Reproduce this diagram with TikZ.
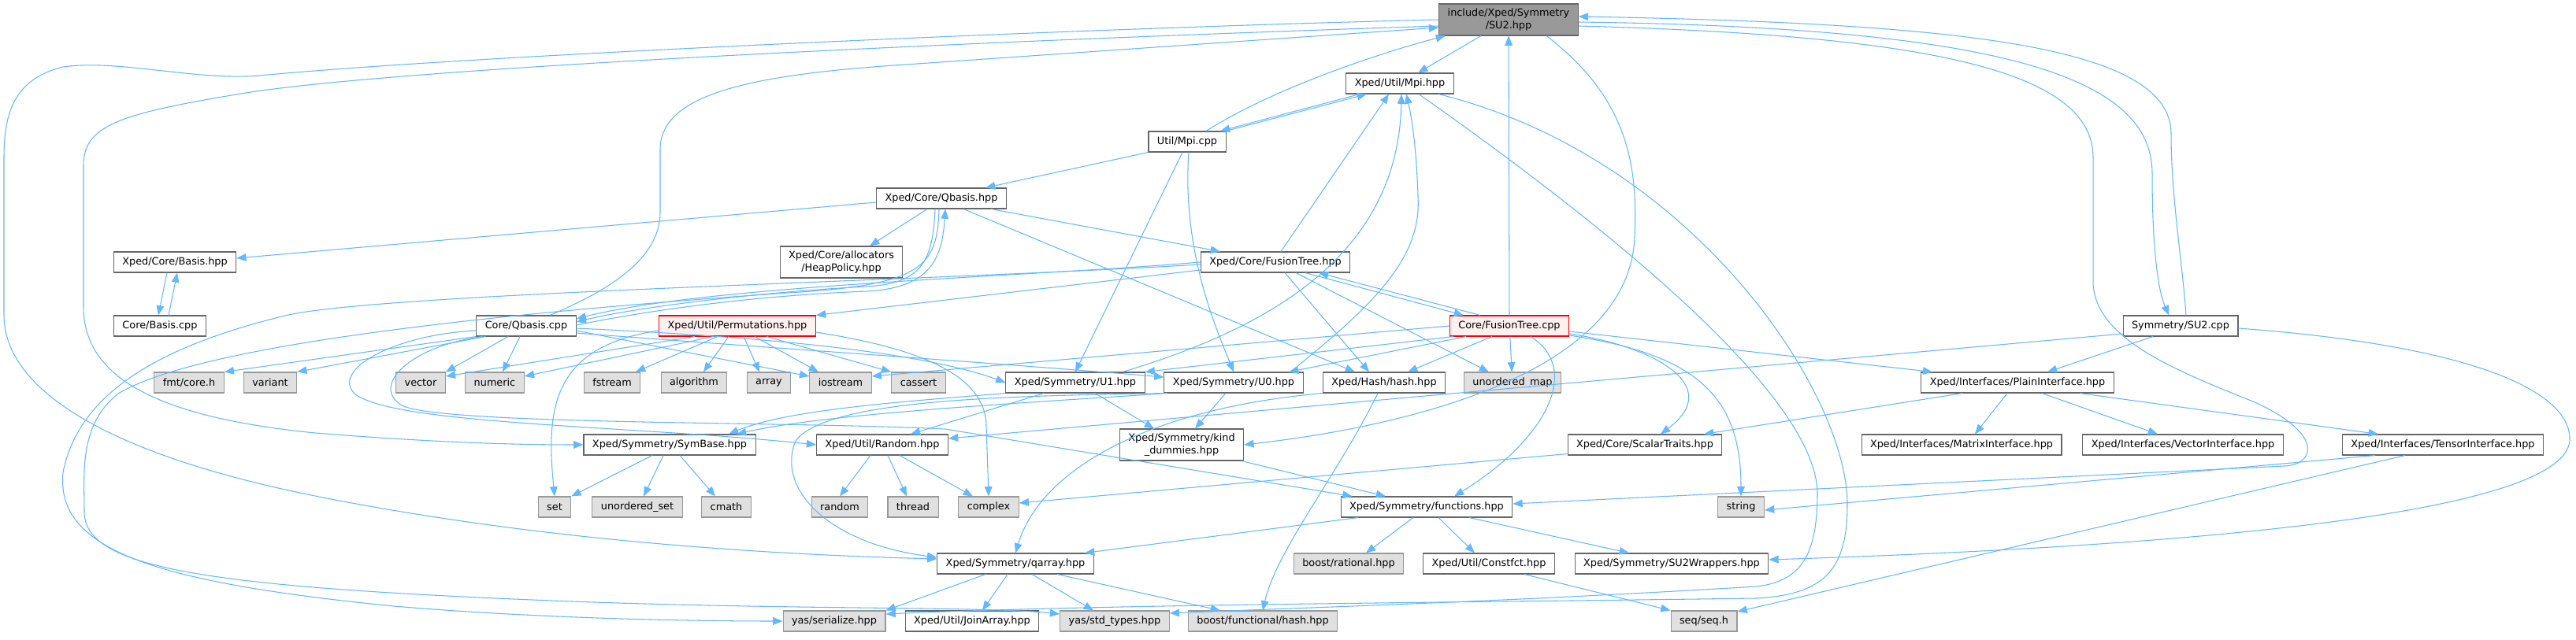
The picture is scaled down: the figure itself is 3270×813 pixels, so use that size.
\documentclass[tikz,border=0pt]{standalone}
\usepackage{fontspec}
\newfontfamily\dxfont{DejaVu Sans}
\usetikzlibrary{arrows.meta,calc}
\definecolor{dxEdge}{HTML}{63B8FF}
\definecolor{dxBorder}{HTML}{666666}
\definecolor{dxSysFill}{HTML}{E0E0E0}
\definecolor{dxSysBorder}{HTML}{999999}
\definecolor{dxRootFill}{HTML}{999999}
\definecolor{dxRed}{HTML}{FF0000}
\definecolor{dxRedFill}{HTML}{FFF0F0}

\begin{document}
\begin{tikzpicture}[
  x=0.02cm, y=-0.02cm,
  file/.style={
    draw=dxBorder,
    line width=0.6pt,
    fill=white,
    font=\dxfont\fontsize{7.3}{8.7}\selectfont,
    inner xsep=0.22cm,
    inner ysep=0pt,
    minimum height=0.52cm,
    align=center
  },
  sysfile/.style={file,draw=dxSysBorder,fill=dxSysFill},
  rootfile/.style={file,fill=dxRootFill,minimum height=0.8cm},
  redfile/.style={file,draw=dxRed,fill=dxRedFill},
  dep/.style={draw=dxEdge,line width=0.6pt,-{Triangle[length=7pt,width=5.5pt]}}
]
  \fill[white] (0,0) rectangle (3270,813);
  \useasboundingbox (0,0) rectangle (3270,813);

  % files of the project
  \node[rootfile] (su2h) at (1915,25) {include/Xped/Symmetry\\/SU2.hpp};
  \node[file] (mpih) at (1777,106) {Xped/Util/Mpi.hpp};
  \node[file] (mpic) at (1507,180) {Util/Mpi.cpp};
  \node[file] (qbh) at (1195,252) {Xped/Core/Qbasis.hpp};
  \node[file] (basish) at (222,333) {Xped/Core/Basis.hpp};
  \node[file,minimum height=0.8cm] (heap) at (1068,333) {Xped/Core/allocators\\/HeapPolicy.hpp};
  \node[file] (fth) at (1619,333) {Xped/Core/FusionTree.hpp};
  \node[file] (basisc) at (203,414) {Core/Basis.cpp};
  \node[file] (qbc) at (668,414) {Core/Qbasis.cpp};
  \node[redfile] (perm) at (936,414) {Xped/Util/Permutations.hpp};
  \node[redfile] (ftc) at (1916,414) {Core/FusionTree.cpp};
  \node[file] (su2c) at (2768,414) {Symmetry/SU2.cpp};

  \node[sysfile] (fmt) at (240,486) {fmt/core.h};
  \node[sysfile] (variant) at (343,486) {variant};
  \node[sysfile] (vector) at (534,486) {vector};
  \node[sysfile] (numeric) at (628,486) {numeric};
  \node[sysfile] (fstream) at (777,486) {fstream};
  \node[sysfile] (algorithm) at (881,486) {algorithm};
  \node[sysfile] (array) at (976,486) {array};
  \node[sysfile] (iostream) at (1067,486) {iostream};
  \node[sysfile] (cassert) at (1166,486) {cassert};
  \node[file] (u1) at (1365,486) {Xped/Symmetry/U1.hpp};
  \node[file] (u0) at (1566,486) {Xped/Symmetry/U0.hpp};
  \node[file] (hash) at (1757,486) {Xped/Hash/hash.hpp};
  \node[sysfile] (umap) at (1920,486) {unordered\_map};
  \node[file] (plain) at (2561,486) {Xped/Interfaces/PlainInterface.hpp};

  \node[file] (symbase) at (850,565) {Xped/Symmetry/SymBase.hpp};
  \node[file] (random) at (1120,565) {Xped/Util/Random.hpp};
  \node[file,minimum height=0.8cm] (kind) at (1500,565) {Xped/Symmetry/kind\\\_dummies.hpp};
  \node[file] (scalar) at (2088,565) {Xped/Core/ScalarTraits.hpp};
  \node[file] (matrix) at (2490,565) {Xped/Interfaces/MatrixInterface.hpp};
  \node[file] (vecif) at (2771,565) {Xped/Interfaces/VectorInterface.hpp};
  \node[file] (tensor) at (3101,565) {Xped/Interfaces/TensorInterface.hpp};

  \node[sysfile] (set) at (704,644) {set};
  \node[sysfile] (uset) at (809,644) {unordered\_set};
  \node[sysfile] (cmath) at (922,644) {cmath};
  \node[sysfile] (randomh) at (1066,644) {random};
  \node[sysfile] (thread) at (1159,644) {thread};
  \node[sysfile] (complex) at (1255,644) {complex};
  \node[file] (func) at (1811,644) {Xped/Symmetry/functions.hpp};
  \node[sysfile] (string) at (2210,644) {string};

  \node[file] (qarray) at (1289,716) {Xped/Symmetry/qarray.hpp};
  \node[sysfile] (rational) at (1712,716) {boost/rational.hpp};
  \node[file] (constfct) at (1890,716) {Xped/Util/Constfct.hpp};
  \node[file] (su2w) at (2122,716) {Xped/Symmetry/SU2Wrappers.hpp};

  \node[sysfile] (serialize) at (1059,789) {yas/serialize.hpp};
  \node[file] (joinarray) at (1234,789) {Xped/Util/JoinArray.hpp};
  \node[sysfile] (stdtypes) at (1415,789) {yas/std\_types.hpp};
  \node[sysfile] (bhash) at (1603,789) {boost/functional/hash.hpp};
  \node[sysfile] (seq) at (2163,789) {seq/seq.h};

  % root header
  \draw[dep] (su2h) -- (mpih);
  \draw[dep] (su2h.west) .. controls (1400,35) and (600,70) .. (330,96)
    .. controls (250,103) and (150,75) .. (80,85)
    .. controls (20,100) and (5,140) .. (5,200) -- (5,400)
    .. controls (5,500) and (150,580) .. (400,630)
    .. controls (700,690) and (1000,705) .. ($(qarray.west)+(0,-6)$);
  \draw[dep] ($(su2h.west)+(0,8)$) .. controls (1300,50) and (500,85) .. (300,120)
    .. controls (150,145) and (106,160) .. (106,210) -- (106,390)
    .. controls (106,480) and (200,530) .. (400,550)
    .. controls (550,562) and (650,565) .. (symbase.west);
  \draw[dep] ($(su2h.south)+(48,0)$) .. controls (2060,120) and (2080,200) .. (2075,300)
    .. controls (2070,470) and (1800,540) .. (kind.east);
  \draw[dep] ($(su2h.east)+(0,3)$) .. controls (2550,35) and (2732,100) .. (2732,220)
    .. controls (2732,320) and (2740,370) .. ($(su2c.north)+(-15,0)$);
  \draw[dep] ($(su2c.north)+(7,0)$) .. controls (2770,330) and (2756,250) .. (2756,170)
    .. controls (2756,60) and (2500,30) .. ($(su2h.east)+(0,-4)$);
  \draw[dep] ($(su2h.east)+(0,8)$) .. controls (2450,45) and (2657,90) .. (2657,200) -- (2657,360)
    .. controls (2660,430) and (2760,470) .. (2860,510)
    .. controls (2950,550) and (2940,590) .. (2900,592) -- ($(func.east)+(0,-4)$);

  % Mpi
  \draw[dep] ($(mpih.south)+(-51,0)$) -- ($(mpic.north)+(42,0)$);
  \draw[dep] ($(mpic.north)+(49,0)$) -- ($(mpih.south)+(-42,0)$);
  \draw[dep] ($(mpic.north)+(24,0)$) .. controls (1620,110) and (1760,65) .. ($(su2h.south)+(-80,0)$);
  \draw[dep] (mpic.south west) -- ($(qbh.north)+(56,0)$);
  \draw[dep] ($(mpic.south)+(-6,0)$) -- (u1.north);
  \draw[dep] ($(mpic.south)+(2,0)$) .. controls (1500,320) and (1545,420) .. (u0.north);
  \draw[dep] ($(mpih.south)+(24,0)$) .. controls (2100,330) and (2310,520) .. (2307,630)
    .. controls (2306,700) and (2290,738) .. (2230,745)
    .. controls (1900,765) and (1650,772) .. ($(stdtypes.east)+(0,-10)$);
  \draw[dep] ($(mpih.south)+(49,0)$) .. controls (2150,200) and (2345,500) .. (2345,640)
    .. controls (2345,720) and (2320,755) .. (2230,760)
    .. controls (1800,766) and (1400,768) .. ($(serialize.east)+(0,-9)$);

  % Qbasis and FusionTree headers
  \draw[dep] ($(qbh.west)+(0,5)$) -- ($(basish.east)+(0,-5)$);
  \draw[dep] ($(qbh.south)+(-18,0)$) -- ($(heap.north)+(36,0)$);
  \draw[dep] ($(qbh.south)+(63,0)$) -- ($(fth.north)+(-70,0)$);
  \draw[dep] ($(qbh.south)+(28,0)$) -- ($(hash.north)+(-37,0)$);
  \draw[dep] ($(qbh.south)+(-8,0)$) .. controls (1184,330) and (1172,360) .. (1100,364)
    .. controls (950,372) and (800,392) .. ($(qbc.east)+(0,-5)$);
  \draw[dep] ($(qbc.east)+(0,-1)$) .. controls (820,395) and (950,376) .. (1100,370)
    .. controls (1180,366) and (1196,330) .. ($(qbh.south)+(5,0)$);
  \draw[dep] ($(qbh.south)+(-3,0)$) .. controls (1190,340) and (1170,362) .. (1000,372)
    .. controls (600,400) and (250,440) .. (150,500)
    .. controls (100,540) and (107,600) .. (107,650)
    .. controls (107,720) and (250,745) .. (700,763)
    .. controls (1000,775) and (1250,770) .. ($(stdtypes.west)+(0,-9)$);
  \draw[dep] (fth.west) .. controls (1300,352) and (900,362) .. ($(qbc.east)+(0,-9)$);
  \draw[dep] ($(fth.west)+(0,3)$) .. controls (1150,358) and (500,372) .. (366,400)
    .. controls (200,440) and (100,500) .. (80,600)
    .. controls (70,700) and (200,740) .. (500,770)
    .. controls (700,787) and (900,789) .. (serialize.west);
  \draw[dep] ($(fth.west)+(0,10)$) -- (perm.north east);
  \draw[dep] ($(fth.north)+(7,0)$) -- ($(mpih.south)+(-14,0)$);
  \draw[dep] ($(fth.south)+(12,0)$) -- ($(hash.north)+(-19,0)$);
  \draw[dep] ($(fth.south)+(26,0)$) -- ($(umap.north)+(-30,0)$);
  \draw[dep] ($(fth.south)+(38,0)$) -- ($(ftc.north)+(-58,0)$);
  \draw[dep] ($(ftc.north)+(-37,0)$) -- ($(fth.south)+(55,0)$);
  \draw[dep] ($(basish.south)+(-10,0)$) -- ($(basisc.north)+(-2,0)$);
  \draw[dep] ($(basisc.north)+(11,0)$) -- ($(basish.south)+(3,0)$);

  % Core/Qbasis.cpp
  \draw[dep] ($(qbc.north)+(30,0)$) .. controls (770,370) and (838,330) .. (838,270) -- (838,190)
    .. controls (838,120) and (950,95) .. (1150,82) -- ($(su2h.west)+(0,10)$);
  \draw[dep] (qbc.south west) -- (fmt.north east);
  \draw[dep] ($(qbc.south west)+(12,0)$) -- (variant.north east);
  \draw[dep] ($(qbc.south)+(-23,0)$) -- (vector.north east);
  \draw[dep] ($(qbc.south)+(-8,0)$) -- ($(numeric.north)+(10,0)$);
  \draw[dep] ($(qbc.east)+(0,6)$) -- ($(iostream.west)+(0,-8)$);
  \draw[dep] ($(qbc.east)+(0,3)$) .. controls (900,425) and (1150,440) .. (u1.west);
  \draw[dep] ($(qbc.east)+(0,9)$) .. controls (950,440) and (1250,460) .. ($(u0.west)+(0,-7)$);
  \draw[dep] ($(qbc.west)+(0,6)$) .. controls (500,425) and (420,470) .. (450,500)
    .. controls (500,540) and (800,540) .. (random.west);
  \draw[dep] ($(qbc.south west)+(8,0)$) .. controls (520,440) and (470,490) .. (510,515)
    .. controls (560,540) and (1000,535) .. (1200,545) -- ($(func.north west)+(15,0)$);

  % Permutations
  \draw[dep] ($(perm.south)+(-54,0)$) -- ($(vector.east)+(0,-8)$);
  \draw[dep] ($(perm.south)+(-30,0)$) -- ($(numeric.east)+(0,-8)$);
  \draw[dep] ($(perm.south)+(-25,0)$) -- ($(fstream.north)+(30,0)$);
  \draw[dep] ($(perm.south)+(-11,0)$) -- ($(algorithm.north)+(12,0)$);
  \draw[dep] ($(perm.south)+(8,0)$) -- ($(array.north)+(-12,0)$);
  \draw[dep] ($(perm.south)+(22,0)$) -- ($(iostream.north)+(-28,0)$);
  \draw[dep] ($(perm.south)+(37,0)$) -- (cassert.north west);
  \draw[dep] ($(perm.west)+(0,6)$) .. controls (700,440) and (693,520) .. (set.north);
  \draw[dep] ($(perm.east)+(0,8)$) .. controls (1150,440) and (1250,470) .. (1252,540) -- (complex.north);

  % Core/FusionTree.cpp
  \draw[dep] (ftc) -- (su2h);
  \draw[dep] (ftc.west) -- ($(iostream.east)+(0,-8)$);
  \draw[dep] ($(ftc.south west)+(5,0)$) -- (u1.north east);
  \draw[dep] ($(ftc.south)+(-55,0)$) -- ($(u0.north)+(70,0)$);
  \draw[dep] ($(ftc.south)+(-22,0)$) -- ($(hash.north)+(30,0)$);
  \draw[dep] (ftc) -- (umap);
  \draw[dep] ($(ftc.south)+(27,0)$) .. controls (2010,470) and (1960,560) .. ($(func.north)+(35,0)$);
  \draw[dep] ($(ftc.east)+(0,10)$) .. controls (2100,440) and (2190,490) .. ($(scalar.north)+(20,0)$);
  \draw[dep] ($(ftc.east)+(0,12)$) .. controls (2150,450) and (2210,500) .. (string.north);
  \draw[dep] ($(ftc.east)+(0,7)$) -- ($(plain.north west)+(15,0)$);

  % Symmetry/SU2.cpp and interfaces
  \draw[dep] ($(su2c.south)+(-35,0)$) -- ($(plain.north)+(38,0)$);
  \draw[dep] ($(su2c.west)+(0,10)$) -- ($(random.east)+(0,-8)$);
  \draw[dep] ($(su2c.east)+(0,3)$) .. controls (3150,440) and (3265,500) .. (3262,560)
    .. controls (3255,640) and (2900,690) .. ($(su2w.east)+(0,-5)$);
  \draw[dep] ($(plain.south)+(-70,0)$) -- ($(scalar.north)+(75,0)$);
  \draw[dep] ($(plain.south)+(-13,0)$) -- ($(matrix.north)+(17,0)$);
  \draw[dep] ($(plain.south)+(31,0)$) -- ($(vecif.north)+(-32,0)$);
  \draw[dep] ($(plain.south)+(79,0)$) -- ($(tensor.north)+(-82,0)$);
  \draw[dep] ($(tensor.south)+(-86,0)$) -- ($(string.east)+(0,4)$);
  \draw[dep] ($(tensor.south)+(-48,0)$) -- ($(seq.east)+(0,-12)$);
  \draw[dep] ($(scalar.south west)+(0,-2)$) -- ($(complex.east)+(0,-5)$);

  % U1, U0, hash
  \draw[dep] ($(u1.north)+(60,0)$) .. controls (1600,420) and (1775,330) .. ($(mpih.south)+(2,0)$);
  \draw[dep] ($(u0.north)+(72,0)$) .. controls (1740,390) and (1805,330) .. (1800,250)
    .. controls (1798,180) and (1790,140) .. ($(mpih.south)+(8,0)$);
  \draw[dep] (u1.south west) .. controls (1150,510) and (1000,520) .. ($(symbase.north)+(75,0)$);
  \draw[dep] ($(u0.south west)+(5,0)$) .. controls (1300,512) and (1050,525) .. ($(symbase.north)+(85,0)$);
  \draw[dep] ($(u1.south)+(-40,0)$) -- ($(random.north)+(36,0)$);
  \draw[dep] ($(u1.south)+(25,0)$) -- ($(kind.north)+(-35,0)$);
  \draw[dep] ($(u0.south)+(-10,0)$) -- ($(kind.north)+(17,0)$);
  \draw[dep] ($(u0.south west)+(2,0)$) .. controls (1300,503) and (1050,505) .. (1010,560)
    .. controls (985,620) and (1050,690) .. ($(qarray.west)+(0,-8)$);
  \draw[dep] (hash.south west) .. controls (1450,520) and (1320,600) .. (qarray.north);
  \draw[dep] ($(hash.south)+(-8,0)$) .. controls (1700,600) and (1620,700) .. (bhash.north);

  % lower part
  \draw[dep] ($(random.south)+(-15,0)$) -- (randomh.north);
  \draw[dep] ($(random.south)+(7,0)$) -- ($(thread.north)+(-8,0)$);
  \draw[dep] ($(random.south)+(22,0)$) -- ($(complex.north)+(-20,0)$);
  \draw[dep] ($(symbase.south)+(-22,0)$) -- (set.north east);
  \draw[dep] ($(symbase.south)+(-8,0)$) -- ($(uset.north)+(8,0)$);
  \draw[dep] ($(symbase.south)+(13,0)$) -- ($(cmath.north)+(-14,0)$);
  \draw[dep] ($(kind.south east)+(-3,0)$) -- ($(func.north)+(-52,0)$);
  \draw[dep] ($(func.south)+(-87,0)$) -- ($(qarray.north)+(88,0)$);
  \draw[dep] ($(func.south)+(-17,0)$) -- ($(rational.north)+(22,0)$);
  \draw[dep] ($(func.south)+(15,0)$) -- ($(constfct.north)+(-18,0)$);
  \draw[dep] ($(func.south)+(54,0)$) -- ($(su2w.north)+(-54,0)$);
  \draw[dep] ($(constfct.south)+(45,0)$) -- (seq.north west);
  \draw[dep] ($(qarray.south)+(-38,0)$) -- (serialize.north east);
  \draw[dep] ($(qarray.south)+(-10,0)$) -- ($(joinarray.north)+(13,0)$);
  \draw[dep] ($(qarray.south)+(21,0)$) -- ($(stdtypes.north)+(-27,0)$);
  \draw[dep] ($(qarray.south)+(53,0)$) -- ($(bhash.north)+(-54,0)$);
\end{tikzpicture}
\end{document}
